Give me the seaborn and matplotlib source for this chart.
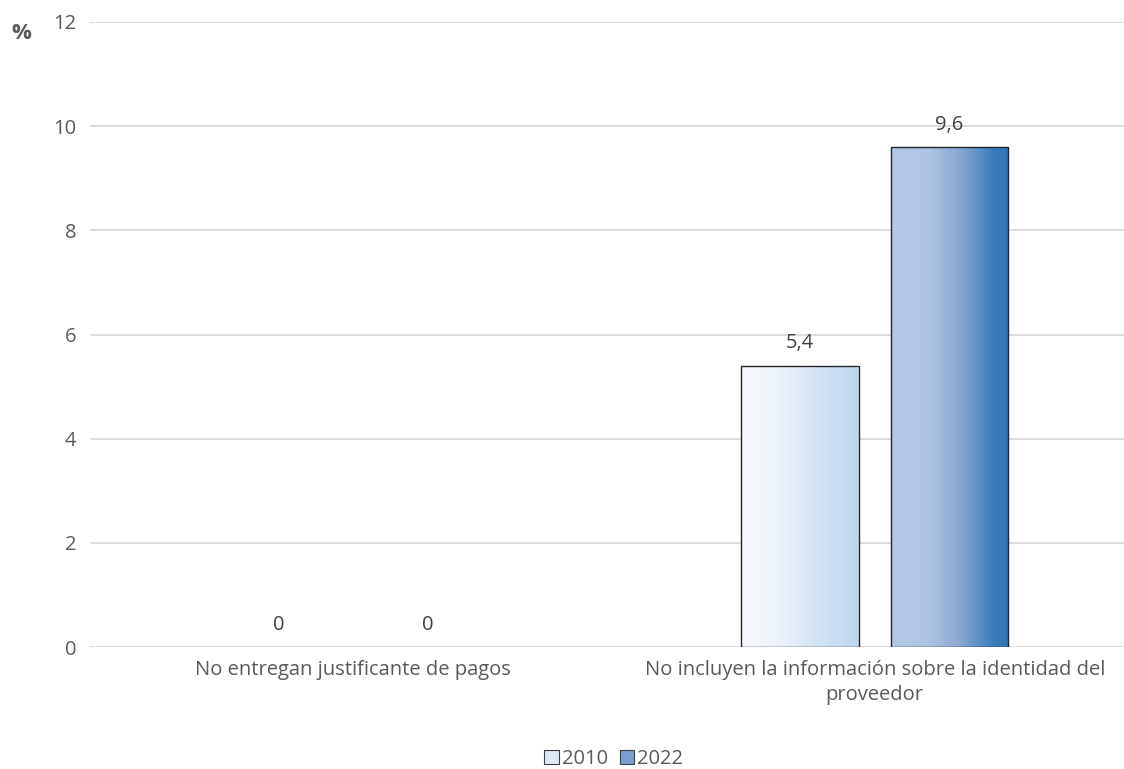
import numpy as np
import pandas as pd
import matplotlib
matplotlib.use("Agg")
import matplotlib.pyplot as plt
from matplotlib.colors import LinearSegmentedColormap
from matplotlib.patches import Patch
import seaborn as sns

categories = ["No entregan justificante de pagos",
              "No incluyen la información sobre la identidad del\nproveedor"]
years = ["2010", "2022"]
values_2010 = [0, 5.4]
values_2022 = [0, 9.6]
value_labels_2010 = ["0", "5,4"]
value_labels_2022 = ["0", "9,6"]
y_ticks = [0, 2, 4, 6, 8, 10, 12]

df = pd.DataFrame({
    "categoria": categories * 2,
    "año": [years[0]] * 2 + [years[1]] * 2,
    "valor": values_2010 + values_2022,
    "etiqueta": value_labels_2010 + value_labels_2022,
})

sns.set_theme(style="white")
plt.rcParams["font.family"] = ["Open Sans", "DejaVu Sans"]
text_color = "#595959"
fs = 14.5

fig = plt.figure(figsize=(11.24, 7.69), dpi=100)
ax = fig.add_axes([0.080, 0.1586, 0.92, 0.8128])

sns.barplot(data=df, x="categoria", y="valor", hue="año", hue_order=years,
            order=categories, width=0.573, gap=0.215, ax=ax, legend=False,
            palette=["#dce9f6", "#7a9fd0"], edgecolor="#262626", linewidth=1.0,
            errorbar=None)

ax.set_ylim(0, 12)
ax.set_xlim(-0.505, 1.478)
ax.set_yticks(y_ticks)
ax.set_yticklabels([str(t) for t in y_ticks], fontsize=fs, color=text_color)
ax.tick_params(axis="y", length=0, pad=10)
ax.tick_params(axis="x", length=0, pad=9, labelsize=fs, labelcolor=text_color)
for t in ax.get_xticklabels():
    t.set_linespacing(1.35)
ax.set_xlabel("")
ax.set_ylabel("")
ax.yaxis.grid(True, color="#d9d9d9", linewidth=1.3)
ax.set_axisbelow(True)
for s in ax.spines.values():
    s.set_visible(False)

# horizontal gradient fills clipped to each bar
grad_2010 = LinearSegmentedColormap.from_list(
    "g2010", [(0, "#f7fafd"), (0.3, "#eef4fb"), (0.6, "#d6e5f4"), (1, "#bdd7ee")])
grad_2022 = LinearSegmentedColormap.from_list(
    "g2022", [(0, "#b4c7e7"), (0.3, "#b0c5e5"), (0.6, "#86a6d3"), (0.85, "#3f7ebd"), (1, "#2e75b6")])
gradient = np.linspace(0, 1, 256).reshape(1, -1)

for container, cmap, labels in zip(ax.containers, [grad_2010, grad_2022],
                                   [value_labels_2010, value_labels_2022]):
    for bar, lab in zip(container, labels):
        x0, w, h = bar.get_x(), bar.get_width(), bar.get_height()
        if h > 0:
            im = ax.imshow(gradient, cmap=cmap, aspect="auto", interpolation="bilinear",
                           extent=[x0, x0 + w, 0, h], zorder=bar.get_zorder() + 0.1)
            im.set_clip_path(bar)
            bar.set_facecolor("none")
            bar.set_zorder(bar.get_zorder() + 0.2)
        else:
            bar.set_visible(False)
        ax.annotate(lab, (x0 + w / 2, h), xytext=(0, 9), textcoords="offset points",
                    ha="center", va="bottom", fontsize=fs, color="#404040")

ax.set_xlim(-0.505, 1.478)
ax.set_ylim(0, 12)

fig.text(0.010, 0.957, "%", fontsize=16, fontweight="bold", color=text_color,
         ha="left", va="center")

handles = [Patch(facecolor="#dce9f6", edgecolor="#404040", linewidth=0.8),
           Patch(facecolor="#7a9fd0", edgecolor="#404040", linewidth=0.8)]
leg = fig.legend(handles, years, loc="center", bbox_to_anchor=(0.546, 0.013),
                 ncol=2, frameon=False, fontsize=fs, handlelength=0.7,
                 handleheight=0.7, handletextpad=0.15, columnspacing=0.6)
for t in leg.get_texts():
    t.set_color(text_color)

fig.savefig("out.png", dpi=100)
